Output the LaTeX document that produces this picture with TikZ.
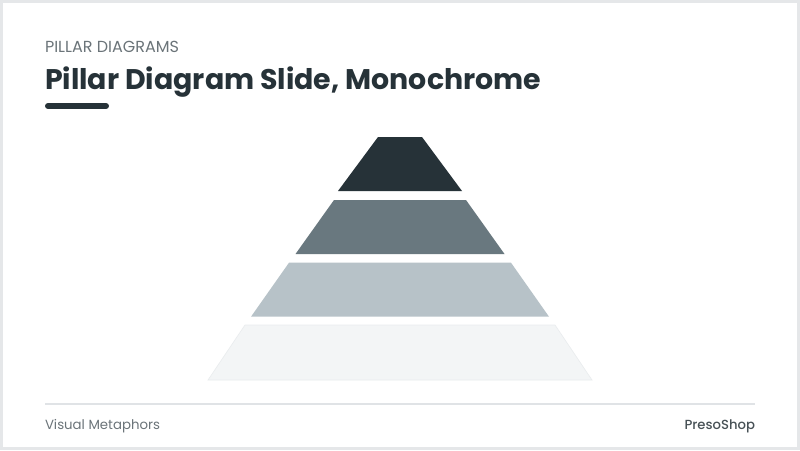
\documentclass[tikz,border=0pt]{standalone}
\usepackage{fontspec}
\setmainfont{Poppins}
\newfontfamily\pmed{Poppins Medium}
\definecolor{ink}{HTML}{263238}
\definecolor{tiertwo}{HTML}{69787F}
\definecolor{tierthree}{HTML}{B7C2C8}
\definecolor{tierfour}{HTML}{F3F5F6}
\definecolor{tierfourline}{HTML}{E9ECEE}
\definecolor{muted}{HTML}{6B7479}
\definecolor{frame}{HTML}{E5E7E9}
\definecolor{rule}{HTML}{E0E3E6}
\begin{document}
\begin{tikzpicture}[x=1pt,y=-1pt,
  txt/.style={inner sep=0pt,outer sep=0pt},
  tier/.style={draw=none}]
\useasboundingbox (0,0) rectangle (800,450);
\fill[frame] (0,0) rectangle (800,450);
\fill[white] (3,3) rectangle (797,447);
% header
\node[txt,anchor=base west,text=muted,font=\fontsize{16}{18}\selectfont] (kicker) at (45,52) {PILLAR DIAGRAMS};
\node[txt,anchor=base west,text=ink,font=\fontsize{28.4}{32}\selectfont\bfseries] (title) at (45,89) {Pillar Diagram Slide, Monochrome};
\draw[ink,line width=6pt,line cap=round] (48,106) -- (106,106);
% pyramid tiers
\fill[ink] (378,137) -- (422,137) -- (462,191) -- (338,191) -- cycle;
\fill[tiertwo] (334,200) -- (466,200) -- (504.5,254) -- (295.5,254) -- cycle;
\fill[tierthree] (289,262.7) -- (511,262.7) -- (549,316.7) -- (251,316.7) -- cycle;
\fill[tierfour,draw=tierfourline,line width=0.6pt] (245,325) -- (555,325) -- (592,380) -- (208,380) -- cycle;
% footer
\draw[rule,line width=2pt] (45,404) -- (755,404);
\node[txt,anchor=base west,text=muted,font=\fontsize{13.3}{15}\selectfont] (foot) at (45,429) {Visual Metaphors};
\node[txt,anchor=base east,text=ink!85,font=\fontsize{13.2}{15}\selectfont\pmed] (brand) at (755,429) {PresoShop};
\end{tikzpicture}
\end{document}
